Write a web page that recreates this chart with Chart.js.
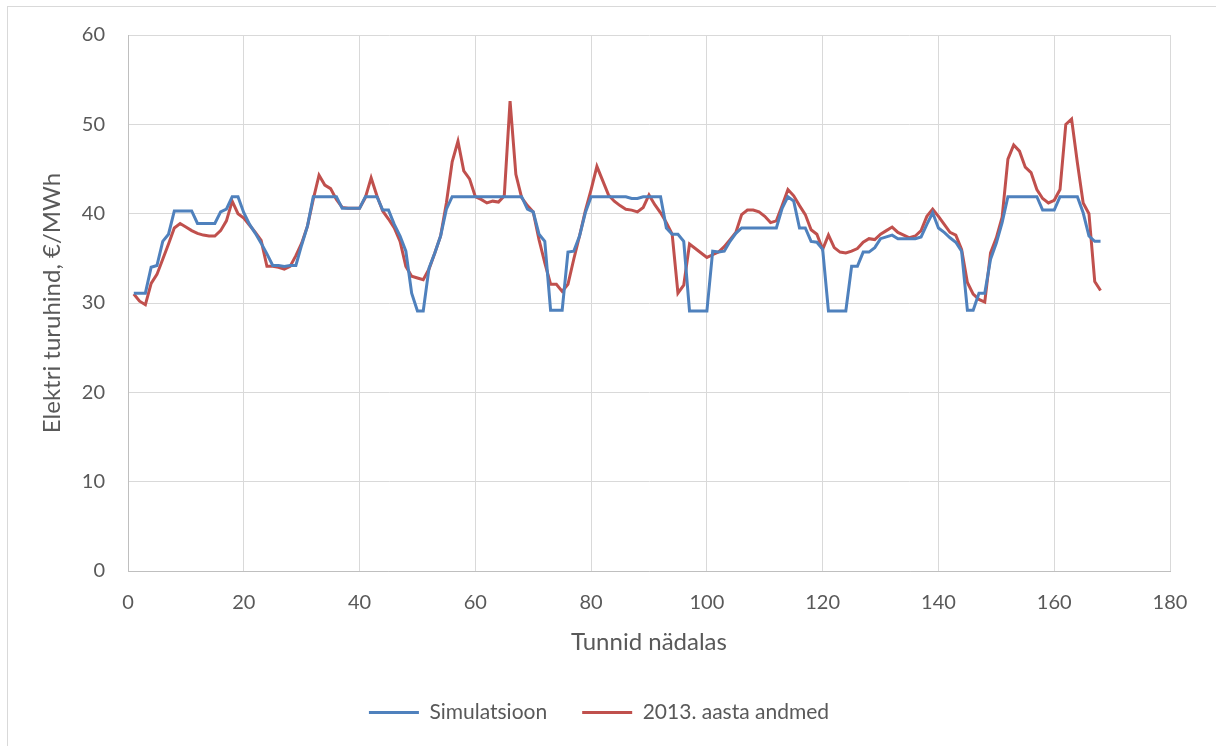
<!DOCTYPE html>
<html>
<head>
<meta charset="utf-8">
<script src="https://cdn.jsdelivr.net/npm/chart.js@4/dist/chart.umd.min.js"></script>
<style>
  html, body { margin: 0; padding: 0; background: #fff; overflow: hidden; }
  #frame {
    position: absolute; left: 7px; top: 6px; width: 1300px; height: 800px;
    border: 1px solid #d9d9d9;
  }
  #wrap { position: absolute; left: 0; top: 0; width: 1216px; height: 746px; }
</style>
</head>
<body>
<div id="frame"></div>
<div id="wrap"><canvas id="chart" width="1216" height="746"></canvas></div>
<script>
var seriesNames = ["Simulatsioon", "2013. aasta andmed"];
var seriesColors = ["#4F81BD", "#C0504D"];
var xTicks = [0, 20, 40, 60, 80, 100, 120, 140, 160, 180];
var yTicks = [0, 10, 20, 30, 40, 50, 60];

// simuleeritud hind tundide kaupa (1..168)
var simulatsioon = [
  31.1, 31.1, 31.1, 34.0, 34.2, 36.9, 37.7, 40.3, 40.3, 40.3, 40.3, 38.9,
  38.9, 38.9, 38.9, 40.2, 40.5, 41.9, 41.9, 40.1, 38.8, 37.8, 36.7, 35.5,
  34.2, 34.2, 34.1, 34.2, 34.2, 36.5, 38.6, 41.9, 41.9, 41.9, 41.9, 41.9,
  40.6, 40.6, 40.6, 40.6, 41.9, 41.9, 41.9, 40.4, 40.4, 38.8, 37.5, 35.8,
  31.1, 29.1, 29.1, 33.9, 35.6, 37.5, 40.5, 41.9, 41.9, 41.9, 41.9, 41.9,
  41.9, 41.9, 41.9, 41.9, 41.9, 41.9, 41.9, 41.9, 40.5, 40.2, 37.7, 36.9,
  29.2, 29.2, 29.2, 35.7, 35.8, 37.5, 40.1, 41.9, 41.9, 41.9, 41.9, 41.9,
  41.9, 41.9, 41.7, 41.7, 41.9, 41.9, 41.9, 41.9, 38.4, 37.7, 37.7, 36.9,
  29.1, 29.1, 29.1, 29.1, 35.8, 35.7, 35.8, 36.9, 37.8, 38.4, 38.4, 38.4,
  38.4, 38.4, 38.4, 38.4, 40.6, 41.9, 41.4, 38.4, 38.4, 36.9, 36.8, 36.0,
  29.1, 29.1, 29.1, 29.1, 34.1, 34.1, 35.7, 35.7, 36.2, 37.2, 37.4, 37.6,
  37.2, 37.2, 37.2, 37.2, 37.4, 38.8, 40.1, 38.4, 37.9, 37.3, 36.8, 35.8,
  29.2, 29.2, 31.1, 31.1, 34.9, 36.7, 39.0, 41.9, 41.9, 41.9, 41.9, 41.9,
  41.9, 40.4, 40.4, 40.4, 41.9, 41.9, 41.9, 41.9, 40.1, 37.5, 36.9, 36.9
];

// 2013. aasta tegelik turuhind
var andmed2013 = [
  31.0, 30.2, 29.8, 32.2, 33.2, 34.9, 36.6, 38.4, 38.9, 38.5, 38.1, 37.8,
  37.6, 37.5, 37.5, 38.1, 39.2, 41.4, 40.0, 39.5, 38.7, 37.9, 37.0, 34.1,
  34.1, 34.0, 33.8, 34.1, 35.3, 36.7, 38.6, 41.6, 44.3, 43.2, 42.8, 41.6,
  40.7, 40.6, 40.6, 40.6, 41.8, 44.0, 42.0, 40.3, 39.4, 38.4, 36.9, 34.1,
  33.0, 32.8, 32.6, 33.8, 35.6, 37.5, 41.2, 45.8, 48.1, 44.8, 43.9, 41.9,
  41.6, 41.2, 41.4, 41.3, 42.0, 52.6, 44.4, 41.8, 40.9, 40.2, 37.1, 34.5,
  32.1, 32.1, 31.3, 32.1, 34.9, 37.5, 40.3, 42.7, 45.3, 43.7, 42.1, 41.4,
  40.9, 40.5, 40.4, 40.2, 40.7, 42.1, 41.0, 40.1, 39.0, 37.7, 31.1, 32.0,
  36.6, 36.1, 35.6, 35.1, 35.4, 35.7, 36.3, 37.1, 37.9, 39.9, 40.4, 40.4,
  40.2, 39.7, 39.0, 39.2, 40.9, 42.7, 42.0, 40.9, 39.9, 38.2, 37.7, 36.0,
  37.6, 36.2, 35.7, 35.6, 35.8, 36.1, 36.8, 37.2, 37.1, 37.7, 38.1, 38.5,
  37.9, 37.6, 37.3, 37.5, 38.1, 39.7, 40.5, 39.7, 38.8, 37.9, 37.6, 36.0,
  32.3, 31.0, 30.4, 30.1, 35.6, 37.3, 39.6, 46.1, 47.7, 47.0, 45.2, 44.6,
  42.7, 41.7, 41.2, 41.5, 42.7, 50.0, 50.6, 45.7, 41.2, 40.0, 32.4, 31.4
];

// nädala tunnid 1..168
var hours = [];
for (var h = 1; h <= simulatsioon.length; h++) hours.push(h);

var textColor = "#595959";
var gridColor = "#d9d9d9";
var fontFamily = "Lato, 'Open Sans', sans-serif";

// legend sits centred on the whole canvas, not only the plot width
var legendShift = {
  id: "legendShift",
  afterLayout: function(chart) {
    chart.legend.left += 14;
    chart.legend.right += 14;
  }
};

var hinnaGraafik = {
  init: function() {
    this.createChart();
  },

  toPoints: function(values) {
    return values.map(function(v, i) {
      return { x: hours[i], y: v };
    });
  },

  createChart: function() {
    var ctx = document.getElementById("chart");
    var sets = [simulatsioon, andmed2013].map(function(values, i) {
      return {
        label: seriesNames[i],
        data: hinnaGraafik.toPoints(values),
        borderColor: seriesColors[i],
        backgroundColor: seriesColors[i],
        borderWidth: 3,
        pointRadius: 0,
        tension: 0,
        fill: false
      };
    });

    var myChart = new Chart(ctx, {
      type: "line",
      data: { datasets: sets },
      plugins: [legendShift],
      options: {
        responsive: false,
        animation: false,
        layout: {
          padding: { left: 0, top: 35, right: 46, bottom: 13 }
        },
        plugins: {
          tooltip: { enabled: false },
          legend: {
            position: "bottom",
            labels: {
              boxWidth: 50,
              boxHeight: 3,
              padding: 35,
              color: textColor,
              font: { family: fontFamily, size: 21 },
              generateLabels: function(chart) {
                return chart.data.datasets.map(function(ds, i) {
                  return {
                    text: ds.label,
                    fillStyle: ds.borderColor,
                    strokeStyle: ds.borderColor,
                    lineWidth: 0,
                    fontColor: textColor,
                    datasetIndex: i
                  };
                });
              }
            }
          }
        },
        scales: {
          x: {
            type: "linear",
            min: xTicks[0],
            max: xTicks[xTicks.length - 1],
            afterFit: function(scale) {
              scale.height = 96;
            },
            afterBuildTicks: function(scale) {
              scale.ticks = xTicks.map(function(v) { return { value: v }; });
            },
            ticks: {
              padding: 20,
              color: textColor,
              font: { family: fontFamily, size: 20 }
            },
            grid: { color: gridColor, lineWidth: 1, drawTicks: false },
            border: { color: "#bfbfbf", width: 1 },
            title: {
              display: true,
              text: "Tunnid nädalas",
              color: textColor,
              font: { family: fontFamily, size: 24 },
              padding: { top: 0, bottom: 10 }
            }
          },
          y: {
            min: yTicks[0],
            max: yTicks[yTicks.length - 1],
            afterFit: function(scale) {
              scale.width = 128;
            },
            afterBuildTicks: function(scale) {
              scale.ticks = yTicks.map(function(v) { return { value: v }; });
            },
            ticks: {
              padding: 23,
              color: textColor,
              font: { family: fontFamily, size: 20 }
            },
            grid: { color: gridColor, lineWidth: 1, drawTicks: false },
            border: { color: "#bfbfbf", width: 1 },
            title: {
              display: true,
              text: "Elektri turuhind, €/MWh",
              color: textColor,
              font: { family: fontFamily, size: 24 },
              padding: { top: 38, bottom: 0 }
            }
          }
        }
      }
    });
  }
};

hinnaGraafik.init();
</script>
</body>
</html>
